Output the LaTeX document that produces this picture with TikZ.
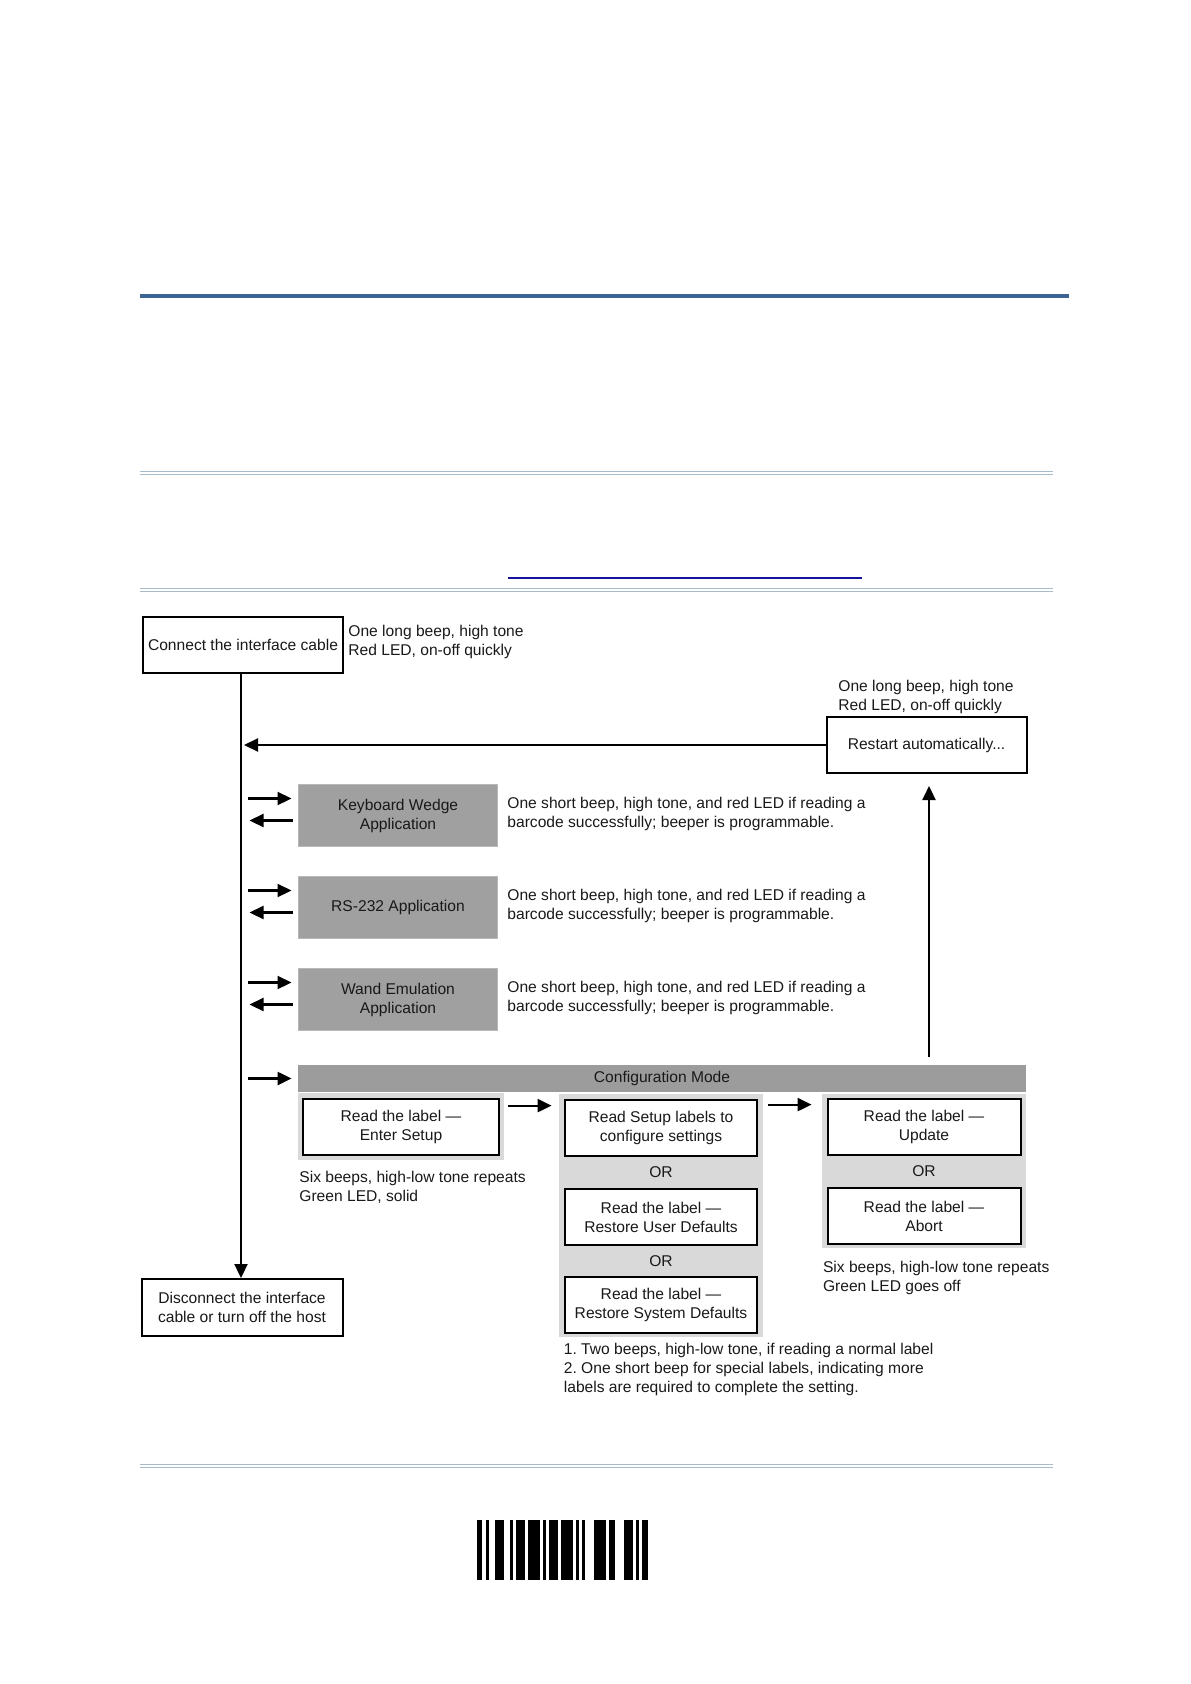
\documentclass[tikz,border=0pt]{standalone}
\usepackage{fontspec}
\setmainfont{Liberation Sans}
\usetikzlibrary{arrows.meta}
\definecolor{rulebl}{HTML}{3C6391}
\definecolor{rulegr}{HTML}{A8BBC8}
\definecolor{linkbl}{HTML}{14149A}
\definecolor{appgray}{HTML}{A0A0A0}
\definecolor{bargray}{HTML}{9C9C9C}
\definecolor{grpgray}{HTML}{D9D9D9}

\begin{document}
\begin{tikzpicture}[x=0.5pt,y=-0.5pt,
  txt/.style={font=\fontsize{7.8}{9.5}\selectfont\frenchspacing, text=black!90},
  box/.style={txt, draw, line width=1pt, fill=white, align=center, inner sep=0pt},
  appbox/.style={txt, fill=appgray, draw=appgray!75!white, line width=0.5pt, align=center,
    minimum width=99.5pt, minimum height=31pt, inner sep=0pt},
  grp/.style={fill=grpgray, inner sep=0pt},
  note/.style={txt, align=left, anchor=west, inner sep=0pt},
  arr/.style={line width=1.1pt, -{Triangle[length=7pt,width=6.5pt]}}]

\useasboundingbox (0,0) rectangle (1190,1684);

% page rules
\draw[rulebl, line width=1.7pt] (140,296) -- (1069,296);
\foreach \y in {473,590,1466} {
  \draw[rulegr, line width=0.5pt] (140,\y-1.1) -- (1053,\y-1.1);
  \draw[rulegr, line width=0.5pt] (140,\y+1.1) -- (1053,\y+1.1);
}
\draw[linkbl, line width=0.7pt] (508,578) -- (862,578);

% start and end
\node[box, minimum width=100pt, minimum height=28pt] (connect) at (243,644.5) {Connect the interface cable};
\node[note] (connectnote) at (348,641.5) {One long beep, high tone\\Red LED, on-off quickly};
\node[box, minimum width=100pt, minimum height=28pt] (restart) at (926.5,745) {Restart automatically...};
\node[note] (restartnote) at (838,697) {One long beep, high tone\\Red LED, on-off quickly};
\node[box, minimum width=100.5pt, minimum height=28.5pt] (disconnect) at (242,1307.5) {Disconnect the interface\\cable or turn off the host};

% applications
\node[appbox] (kw) at (398,815.5) {Keyboard Wedge\\Application};
\node[appbox] (rs) at (398,907.5) {RS-232 Application};
\node[appbox] (wand) at (398,999.5) {Wand Emulation\\Application};
\foreach \n in {kw,rs,wand}
  \node[note] (\n note) at ([xshift=4.5pt,yshift=1pt]\n.east) {One short beep, high tone, and red LED if reading a\\barcode successfully; beeper is programmable.};

% configuration mode
\node[txt, fill=bargray, minimum width=364pt, minimum height=13.5pt, inner sep=0pt] (config) at (662,1078.5) {Configuration Mode};
\node[grp, minimum width=103pt, minimum height=33.5pt] (entergrp) at (401,1126.5) {};
\node[box, minimum width=98pt, minimum height=28pt] (enter) at (401,1127) {Read the label —\\Enter Setup};
\node[grp, minimum width=102pt, minimum height=121.5pt] (setgrp) at (661,1215.5) {};
\node[box, minimum width=96pt, minimum height=28pt] (setup) at (661,1128) {Read Setup labels to\\configure settings};
\node[txt] (or1) at (661,1172) {OR};
\node[box, minimum width=96pt, minimum height=28pt] (userdef) at (661,1217) {Read the label —\\Restore User Defaults};
\node[txt] (or2) at (661,1261) {OR};
\node[box, minimum width=96pt, minimum height=28pt] (sysdef) at (661,1305) {Read the label —\\Restore System Defaults};
\node[grp, minimum width=102pt, minimum height=77pt] (endgrp) at (924,1171) {};
\node[box, minimum width=96.5pt, minimum height=28pt] (update) at (924,1127) {Read the label —\\Update};
\node[txt] (or3) at (924,1171) {OR};
\node[box, minimum width=96.5pt, minimum height=28pt] (abort) at (924,1216) {Read the label —\\Abort};
\node[note] (enternote) at (299,1187.5) {Six beeps, high-low tone repeats\\Green LED, solid};
\node[note] (endnote) at (822.6,1277.5) {Six beeps, high-low tone repeats\\Green LED goes off};
\node[note] (setnote) at (563.5,1369) {1. Two beeps, high-low tone, if reading a normal label\\2. One short beep for special labels, indicating more\\labels are required to complete the setting.};

% connectors
\coordinate (trunk) at ([xshift=-1pt]connect.south);
\draw[arr] (trunk) -- (trunk |- disconnect.north);
\draw[arr, shorten >=1.5pt] (restart.west) -- (restart.west -| trunk);
\coordinate (upfoot) at (929,1057);
\draw[arr, shorten >=6pt] (upfoot) -- (upfoot |- restart.south);
\foreach \n in {kw,rs,wand} {
  \path ([yshift=8.5pt]\n.west) coordinate (\n A) ([yshift=-2.5pt]\n.west) coordinate (\n B);
  \draw[arr, shorten <=3.5pt, shorten >=3.25pt] (\n A -| trunk) -- (\n A);
  \draw[arr, shorten <=2.75pt, shorten >=4.25pt] (\n B) -- (\n B -| trunk);
}
\draw[arr, shorten <=3.5pt, shorten >=3pt] (config.west -| trunk) -- (config.west);
\path ([yshift=-6.5pt]entergrp.north east) coordinate (enterA);
\draw[arr, shorten <=2pt, shorten >=3.5pt] (enterA) -- (enterA -| setgrp.west);
\path ([yshift=-5.5pt]setgrp.north east) coordinate (setA);
\draw[arr, shorten <=2.5pt, shorten >=5pt] (setA) -- (setA -| endgrp.west);

% barcode
\foreach \a/\b in {477/481.7,486/489,495/504,510/513,516/525,528/540,543/546,549/558,
  561/573,576/579,582/585,594/606,609/615,624/633,636/639,642/648}
  \fill (\a,1520) rectangle (\b,1580);
\end{tikzpicture}
\end{document}
